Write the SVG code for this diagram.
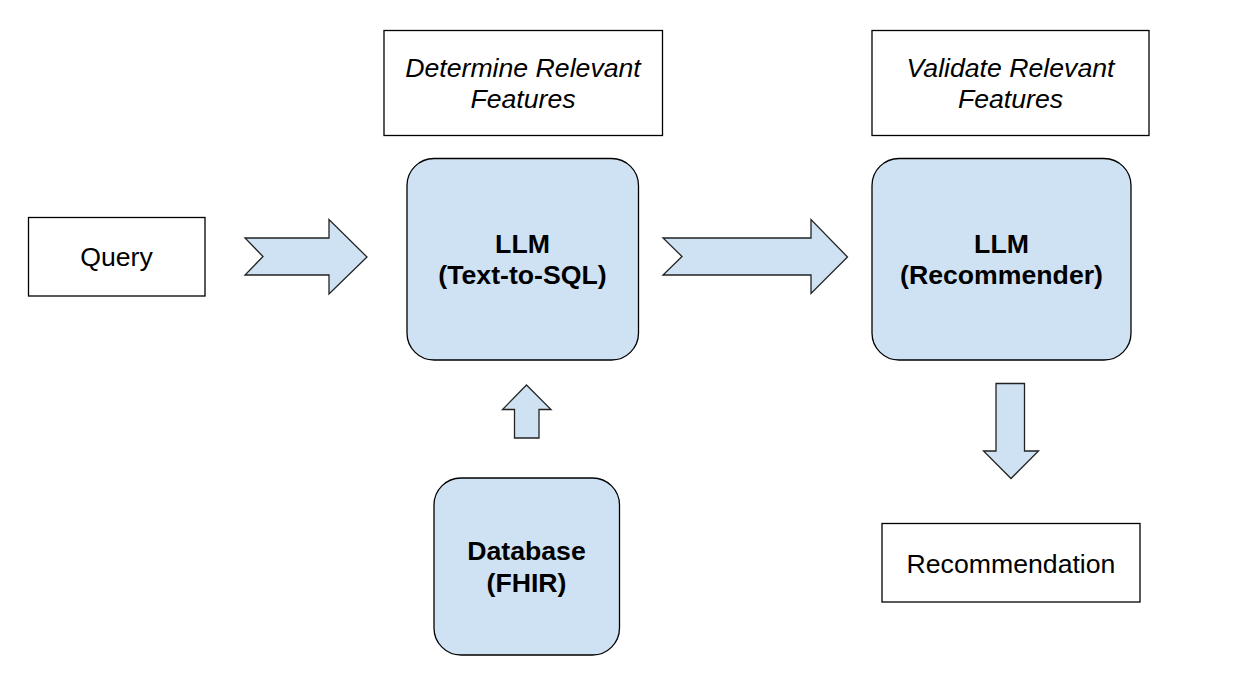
<svg xmlns="http://www.w3.org/2000/svg" width="1246" height="680" viewBox="0 0 1246 680">
<style>
.bg{fill:#ffffff}
.plain{fill:#ffffff;stroke:#000000;stroke-width:1.3}
.llm{fill:#cfe2f3;stroke:#000000;stroke-width:1.3}
.arr{fill:#cfe2f3;stroke:#222222;stroke-width:1.3;stroke-linejoin:miter}
text{font-family:"Liberation Sans",Arial,sans-serif;font-size:26.67px;fill:#000000;text-anchor:middle}
.b{font-weight:bold}
.i{font-style:italic}
</style>
<rect class="bg" x="0" y="0" width="1246" height="680"/>
<g id="connectors">
<polygon class="arr" points="245,238 329,238 329,219.5 367,257 329,294 329,275 245,275 263,256.5"/>
<polygon class="arr" points="663,238 811,238 811,219.5 847.5,257 811,293.5 811,275 663,275 682,256.5"/>
<polygon class="arr" points="526.5,385 551,409.5 539,409.5 539,438 514.5,438 514.5,409.5 502.5,409.5"/>
<polygon class="arr" points="996,383.5 1024.5,383.5 1024.5,451 1038.5,451 1011,478.5 983.5,451 996,451"/>
</g>
<g id="query">
<rect class="plain" x="28.5" y="217.5" width="176.5" height="78.5"/>
<text x="116.5" y="266">Query</text>
</g>
<g id="determine">
<rect class="plain" x="384" y="30.5" width="278.5" height="105"/>
<text class="i" x="523" y="77">Determine Relevant</text>
<text class="i" x="523" y="108">Features</text>
</g>
<g id="validate">
<rect class="plain" x="872" y="30.5" width="277" height="105"/>
<text class="i" x="1010.5" y="77">Validate Relevant</text>
<text class="i" x="1010.5" y="108">Features</text>
</g>
<g id="llm-sql">
<rect class="llm" x="407" y="158.5" width="231.5" height="201.5" rx="27" ry="27"/>
<text class="b" x="522.5" y="253">LLM</text>
<text class="b" x="522.5" y="284">(Text-to-SQL)</text>
</g>
<g id="llm-rec">
<rect class="llm" x="872" y="158.5" width="259" height="201.5" rx="27" ry="27"/>
<text class="b" x="1001.5" y="253">LLM</text>
<text class="b" x="1001.5" y="284">(Recommender)</text>
</g>
<g id="database">
<rect class="llm" x="434" y="478" width="185.5" height="177" rx="27" ry="27"/>
<text class="b" x="526.5" y="560">Database</text>
<text class="b" x="526.5" y="592">(FHIR)</text>
</g>
<g id="recommendation">
<rect class="plain" x="882" y="523.5" width="258" height="78.5"/>
<text x="1011" y="573">Recommendation</text>
</g>
</svg>
